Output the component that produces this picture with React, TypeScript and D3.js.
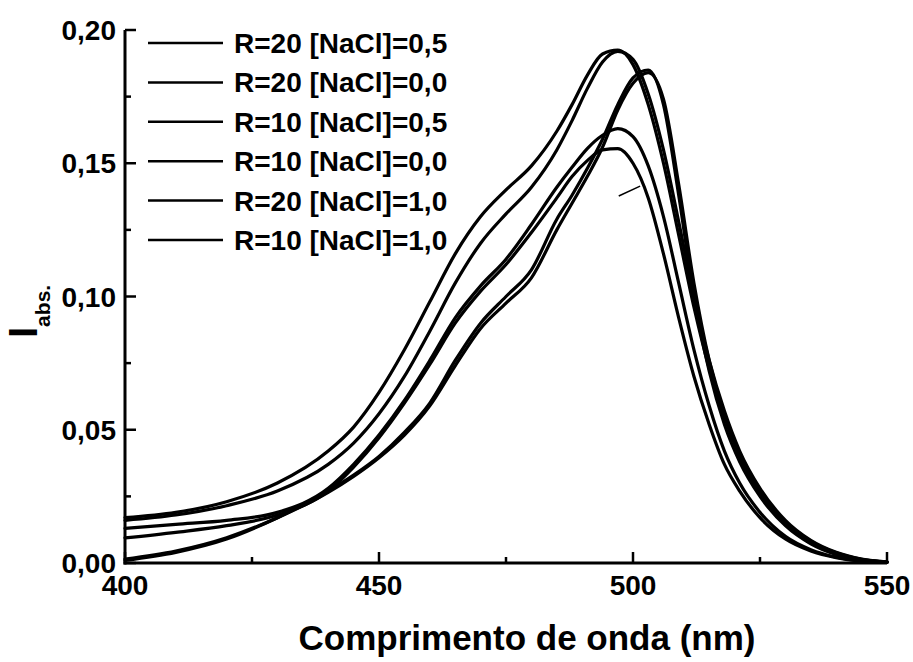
import React from "react";
import * as d3 from "d3";

// Wavelength grid (nm) shared by all spectra
const wavelengths = [
  400, 410, 420, 430, 440, 445, 450, 455, 460, 465, 470, 475, 480, 485, 488, 491,
  494, 497, 500, 503, 506, 509, 512, 515, 518, 521, 525, 530, 535, 540, 545, 550,
];

// Absorbance values per series, aligned with `wavelengths`
const r20NaCl05 = [
  0.016, 0.018, 0.0215, 0.027, 0.037, 0.045, 0.056, 0.07, 0.087, 0.105, 0.12, 0.131, 0.141, 0.155, 0.166, 0.178,
  0.188, 0.192, 0.189, 0.176, 0.155, 0.128, 0.1, 0.076, 0.057, 0.042, 0.028, 0.016, 0.0085, 0.004, 0.0015, 0.0004,
];
const r20NaCl00 = [
  0.017, 0.019, 0.023, 0.03, 0.042, 0.051, 0.064, 0.08, 0.098, 0.116, 0.13, 0.14, 0.149, 0.162, 0.172, 0.183,
  0.191, 0.1925, 0.187, 0.172, 0.15, 0.123, 0.096, 0.073, 0.055, 0.041, 0.027, 0.0155, 0.0082, 0.0038, 0.0014, 0.0004,
];
const r10NaCl05 = [
  0.013, 0.0145, 0.016, 0.019, 0.028, 0.037, 0.048, 0.061, 0.076, 0.092, 0.104, 0.114, 0.127, 0.141, 0.1485, 0.1555,
  0.1605, 0.163, 0.16, 0.149, 0.13, 0.105, 0.08, 0.059, 0.042, 0.03, 0.019, 0.01, 0.005, 0.0022, 0.0008, 0.0002,
];
const r10NaCl00 = [
  0.0094, 0.0115, 0.014, 0.018, 0.027, 0.036, 0.047, 0.06, 0.0745, 0.09, 0.102, 0.112, 0.124, 0.137, 0.145, 0.151,
  0.155, 0.1555, 0.15, 0.137, 0.116, 0.092, 0.07, 0.052, 0.037, 0.027, 0.017, 0.009, 0.0045, 0.002, 0.0007, 0.0002,
];
const r20NaCl10 = [
  0.001, 0.004, 0.009, 0.017, 0.027, 0.033, 0.04, 0.049, 0.06, 0.076, 0.09, 0.1, 0.11, 0.129, 0.138, 0.148,
  0.159, 0.172, 0.182, 0.185, 0.172, 0.138, 0.1, 0.072, 0.052, 0.038, 0.025, 0.014, 0.0072, 0.0032, 0.0012, 0.0003,
];
const r10NaCl10 = [
  0.0015, 0.0045, 0.0095, 0.017, 0.0265, 0.0325, 0.0395, 0.048, 0.059, 0.074, 0.088, 0.0975, 0.107, 0.125, 0.135, 0.145,
  0.156, 0.17, 0.18, 0.184, 0.174, 0.142, 0.105, 0.076, 0.055, 0.04, 0.0265, 0.015, 0.0078, 0.0035, 0.0013, 0.0003,
];

const seriesLabels = [
  "R=20 [NaCl]=0,5",
  "R=20 [NaCl]=0,0",
  "R=10 [NaCl]=0,5",
  "R=10 [NaCl]=0,0",
  "R=20 [NaCl]=1,0",
  "R=10 [NaCl]=1,0",
];
const seriesValues = [r20NaCl05, r20NaCl00, r10NaCl05, r10NaCl00, r20NaCl10, r10NaCl10];

const xMajorTicks = [400, 450, 500, 550];
const xMinorTicks = [425, 475, 525];
const yMajorTicks = [0, 0.05, 0.1, 0.15, 0.2];
const yMinorTicks = [0.025, 0.075, 0.125, 0.175];

// Short pen stroke next to the lower peaks
const penMarkX = [497.2, 501.4];
const penMarkY = [0.1377, 0.1414];

const W = 913;
const H = 662;
const FONT = "'Liberation Sans', Arial, Helvetica, sans-serif";

export default function App() {
  const x = d3.scaleLinear().domain([400, 550]).range([125, 887]);
  const y = d3.scaleLinear().domain([0, 0.2]).range([563, 30]);

  const line = d3
    .line<[number, number]>()
    .x((d) => x(d[0]))
    .y((d) => y(d[1]))
    .curve(d3.curveMonotoneX);

  const fmtY = (v: number) => d3.format(".2f")(v).replace(".", ",");

  const legendTop = 43;
  const legendStep = 39.4;

  return (
    <svg
      width={W}
      height={H}
      viewBox={`0 0 ${W} ${H}`}
      style={{ position: "absolute", left: 0, top: 0, background: "#fff" }}
      fontFamily={FONT}
    >
      <rect x={0} y={0} width={W} height={H} fill="#fff" />

      {/* spectra */}
      <g fill="none" stroke="#000" strokeWidth={3.2} strokeLinejoin="round" strokeLinecap="round">
        {seriesValues.map((vals, i) => (
          <path key={i} d={line(wavelengths.map((w, j) => [w, vals[j]] as [number, number])) || ""} />
        ))}
      </g>
      <line
        x1={x(penMarkX[0])}
        y1={y(penMarkY[0])}
        x2={x(penMarkX[1])}
        y2={y(penMarkY[1])}
        stroke="#000"
        strokeWidth={1.5}
      />

      {/* axes */}
      <g stroke="#000" strokeWidth={3} fill="none">
        <line x1={x(400)} y1={y(0.2)} x2={x(400)} y2={y(0) + 1.5} />
        <line x1={x(400) - 1.5} y1={y(0)} x2={x(550)} y2={y(0)} />
      </g>
      <g stroke="#000" strokeWidth={2.5}>
        {xMajorTicks.map((t) => (
          <line key={`xM${t}`} x1={x(t)} x2={x(t)} y1={y(0)} y2={y(0) - 11} />
        ))}
        {xMinorTicks.map((t) => (
          <line key={`xm${t}`} x1={x(t)} x2={x(t)} y1={y(0)} y2={y(0) - 6} />
        ))}
        {yMajorTicks.map((t) => (
          <line key={`yM${t}`} x1={x(400)} x2={x(400) + 11} y1={y(t)} y2={y(t)} />
        ))}
        {yMinorTicks.map((t) => (
          <line key={`ym${t}`} x1={x(400)} x2={x(400) + 6} y1={y(t)} y2={y(t)} />
        ))}
      </g>

      {/* tick labels */}
      <g fontSize={28} fontWeight="bold" fill="#000">
        {xMajorTicks.map((t) => (
          <text key={`xl${t}`} x={x(t)} y={595} textAnchor="middle">
            {t}
          </text>
        ))}
        {yMajorTicks.map((t) => (
          <text key={`yl${t}`} x={116} y={y(t) + 10} textAnchor="end">
            {fmtY(t)}
          </text>
        ))}
      </g>

      {/* axis titles */}
      <text x={527} y={650} textAnchor="middle" fontSize={35} fontWeight="bold" fill="#000">
        Comprimento de onda (nm)
      </text>
      <text transform="translate(37,338) rotate(-90)" fontSize={40} fontWeight="bold" fill="#000">
        I
        <tspan fontSize={21} dy={13}>
          abs.
        </tspan>
      </text>

      {/* legend */}
      <g>
        {seriesLabels.map((label, i) => {
          const ly = legendTop + i * legendStep;
          return (
            <g key={label}>
              <line x1={148} x2={223} y1={ly} y2={ly} stroke="#000" strokeWidth={2.5} />
              <text x={234} y={ly + 10} fontSize={28} fontWeight="bold" fill="#000">
                {label}
              </text>
            </g>
          );
        })}
      </g>
    </svg>
  );
}
